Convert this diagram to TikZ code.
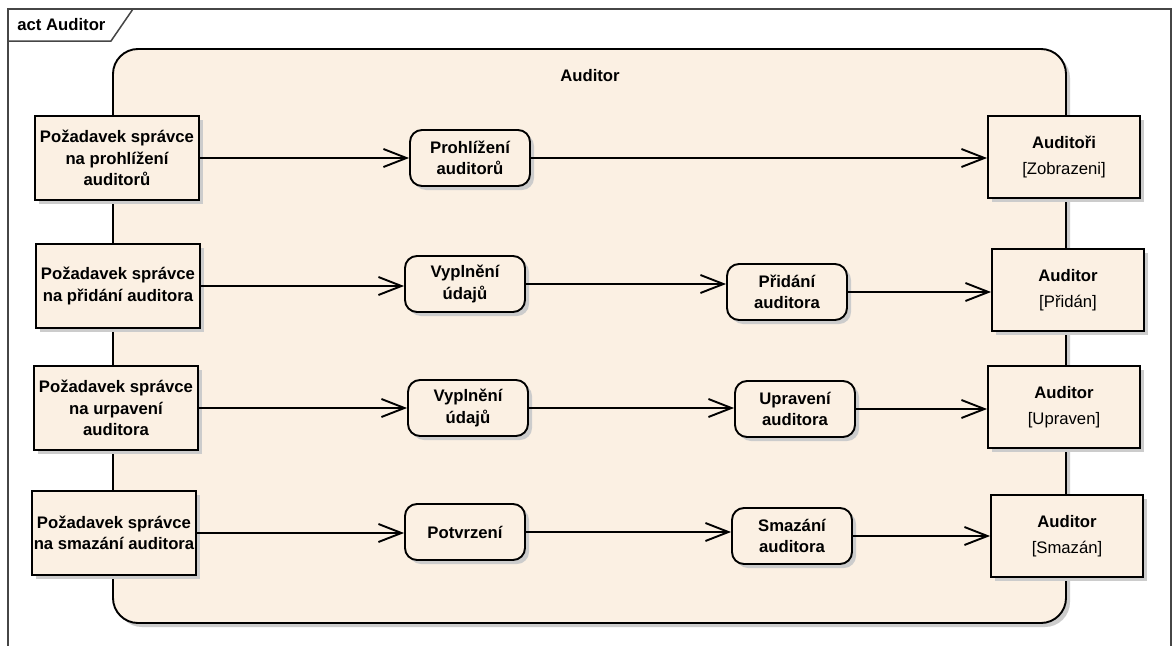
\documentclass[tikz,border=0pt]{standalone}
\usepackage{fontspec}
\setmainfont{Liberation Sans}
\usetikzlibrary{arrows.meta,shadows}

\definecolor{actfill}{RGB}{251,240,227}
\definecolor{framegray}{RGB}{70,70,70}
\newcommand\dgfont{\fontsize{9.5}{12.3}\selectfont}

\begin{document}
\begin{tikzpicture}[
    x=0.2mm, y=-0.2mm,
    shadowed/.style={drop shadow={shadow xshift=0.8mm, shadow yshift=-0.8mm, fill=black!20, opacity=1}},
    param/.style={draw, line width=0.38mm, fill=actfill, shadowed, minimum width=32.8mm, minimum height=16.8mm, inner sep=0pt, align=center, font=\dgfont\bfseries},
    action/.style={draw, line width=0.38mm, fill=actfill, shadowed, rounded corners=2.4mm, minimum width=24mm, minimum height=11.2mm, inner sep=0pt, align=center, font=\dgfont\bfseries},
    object/.style={draw, line width=0.38mm, fill=actfill, shadowed, minimum width=30.4mm, minimum height=16.4mm, inner sep=0pt, align=center, font=\dgfont},
    arr/.style={-{Straight Barb[length=4.6mm, width=3.6mm]}, line width=0.38mm}
]
\useasboundingbox (0,0) rectangle (1176,646);
\fill[white] (0,0) rectangle (1176,646);

% diagram frame and its tab
\draw[framegray, line width=0.3mm] (8,646) -- (8,9) -- (1171,9) -- (1171,646);
\draw[framegray, line width=0.3mm] (8,41) -- (111,41) -- (133,9);
\node[anchor=west, inner sep=0pt, font=\dgfont\bfseries] (tab) at (17,25) {act Auditor};

% activity
\draw[line width=0.38mm, fill=actfill, shadowed, rounded corners=5mm] (113,49) rectangle (1066,623);
\node[font=\dgfont\bfseries] (title) at (590,76) {Auditor};

\node[param] (req1) at (117,158) {Požadavek správce\\na prohlížení\\auditorů};
\node[param] (req2) at (118,286) {Požadavek správce\\na přidání auditora};
\node[param] (req3) at (116,408) {Požadavek správce\\na urpavení\\auditora};
\node[param] (req4) at (114,533) {Požadavek správce\\na smazání auditora};

\node[action] (view) at (470,158) {Prohlížení\\auditorů};
\node[action] (fill2) at (465,284) {Vyplnění\\údajů};
\node[action] (add) at (787,292) {Přidání\\auditora};
\node[action] (fill3) at (468,408) {Vyplnění\\údajů};
\node[action] (edit) at (795,409) {Upravení\\auditora};
\node[action] (confirm) at (465,532) {Potvrzení};
\node[action] (del) at (792,536) {Smazání\\auditora};

\node[object] (out1) at (1064,157) {\textbf{Auditoři}\\[1mm][Zobrazeni]};
\node[object] (out2) at (1068,290) {\textbf{Auditor}\\[1mm][Přidán]};
\node[object] (out3) at (1064,407) {\textbf{Auditor}\\[1mm][Upraven]};
\node[object] (out4) at (1067,536) {\textbf{Auditor}\\[1mm][Smazán]};

\draw[arr] (req1) -- (req1 -| view.west);
\draw[arr] (view) -- (view -| out1.west);
\draw[arr] (req2) -- (req2 -| fill2.west);
\draw[arr] (fill2) -- (fill2 -| add.west);
\draw[arr] (add) -- (add -| out2.west);
\draw[arr] (req3) -- (req3 -| fill3.west);
\draw[arr] (fill3) -- (fill3 -| edit.west);
\draw[arr] (edit) -- (edit -| out3.west);
\draw[arr] (req4) -- (req4 -| confirm.west);
\draw[arr] (confirm) -- (confirm -| del.west);
\draw[arr] (del) -- (del -| out4.west);
\end{tikzpicture}
\end{document}
